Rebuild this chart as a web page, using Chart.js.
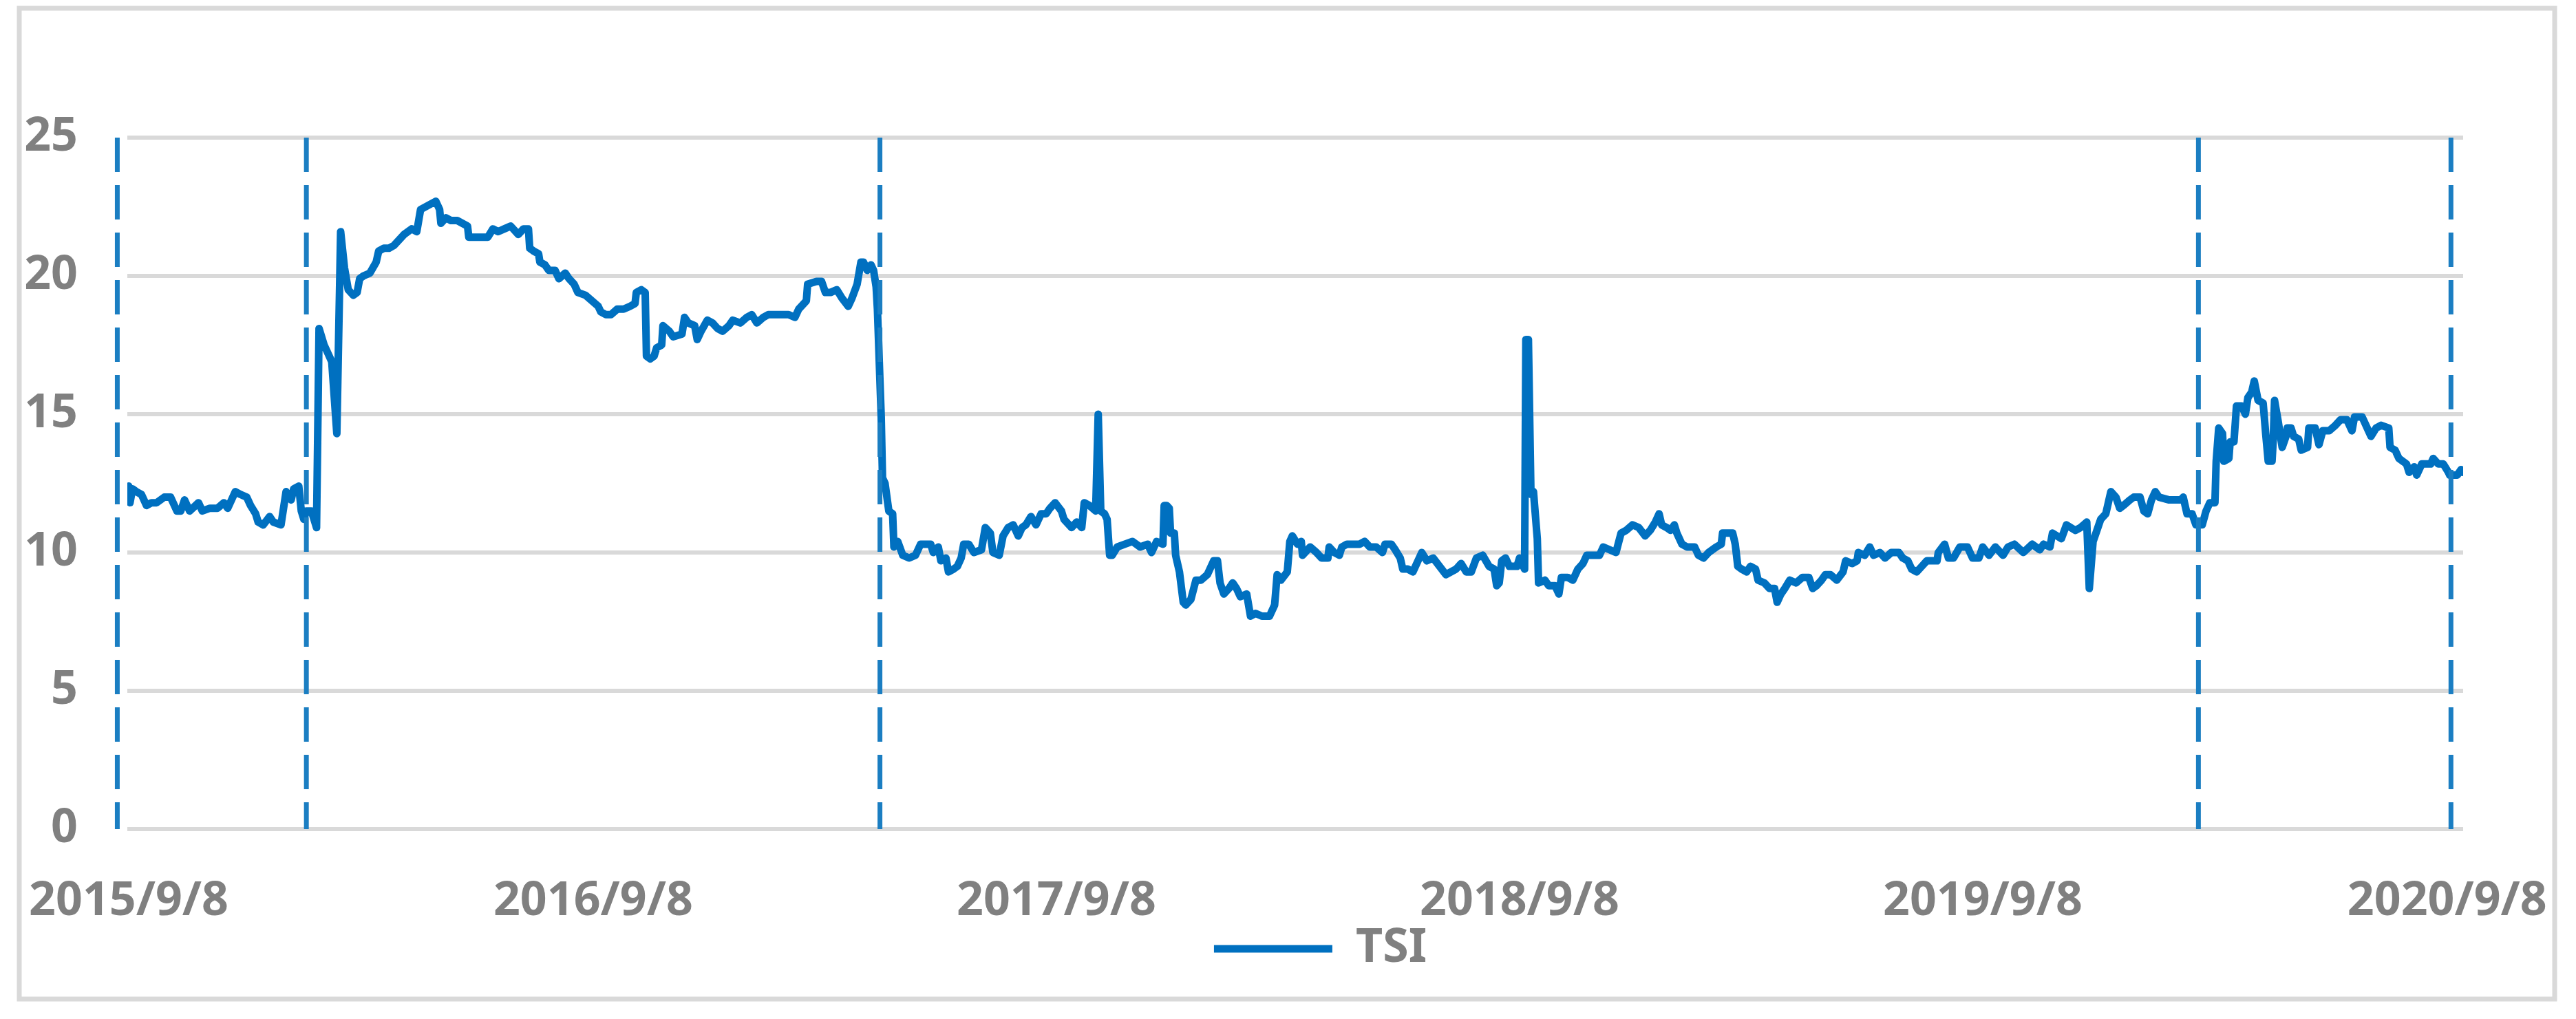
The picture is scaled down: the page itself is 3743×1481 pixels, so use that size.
<!DOCTYPE html>
<html>
<head>
<meta charset="utf-8">
<title>TSI</title>
<script src="https://cdn.jsdelivr.net/npm/chart.js@4.4.0/dist/chart.umd.min.js"></script>
<style>
  html, body { margin: 0; padding: 0; background: #fff; }
  canvas { display: block; }
</style>
</head>
<body>
<canvas id="tsiChart" width="3743" height="1481"></canvas>
<script>
// x values are days counted from 2015/9/8
const tickDays = [0, 366, 731, 1096, 1461, 1827];
const tickLabels = ["2015/9/8", "2016/9/8", "2017/9/8", "2018/9/8", "2019/9/8", "2020/9/8"];

// dashed vertical markers
const markerDays = [-9, 140, 592, 1631, 1830];

const tsiDays = [
  0, 1, 3, 6, 10, 14, 18, 22, 28, 33,
  38, 41, 44, 48, 55, 58, 64, 70, 75, 78,
  84, 88, 93, 96, 100, 102, 106, 111, 114, 120,
  124, 128, 130, 134, 136, 138, 140, 144, 148, 150,
  154, 157, 160, 164, 167, 170, 173, 177, 180, 182,
  185, 190, 195, 197, 201, 205, 209, 213, 217, 223,
  227, 230, 234, 238, 242, 245, 246, 250, 254, 259,
  263, 267, 268, 273, 277, 283, 287, 291, 296, 301,

  307, 311, 315, 316, 319, 323, 324, 328, 331, 336,
  339, 344, 347, 351, 354, 360, 365, 370, 372, 376,
  380, 385, 390, 395, 399, 400, 404, 407, 408, 411,
  414, 416, 420, 421, 426, 429, 436, 438, 441, 446,
  448, 451, 456, 460, 464, 468, 473, 476, 482, 487,
  491, 495, 500, 504, 516, 520, 525, 528, 534, 535,
  542, 546, 549, 553, 558, 562, 567, 570, 574, 577,
  579, 582, 585, 587, 589, 590, 593, 594, 596, 599,
  602, 603, 606, 610, 615,

  620, 624, 629, 632, 634, 638, 640, 644, 646, 650,
  653, 656, 658, 662, 666, 672, 675, 679, 681, 686,
  689, 693, 697, 701, 704, 707, 711, 715, 719, 723,
  726, 730, 735, 737, 743, 747, 751, 753, 757, 762,
  764, 766, 769, 771, 773, 775, 779, 785, 791, 797,
  803, 806, 810, 815, 816, 818, 820, 821, 824, 825,
  828, 831, 833, 837, 841, 845, 850, 855, 858, 860,
  863, 867, 870, 873, 876, 881, 884, 888, 893, 899,
  903, 905, 908, 913, 915, 917, 921, 924, 925,

  931, 936, 940, 945, 946, 950, 954, 956, 960, 964,
  970, 974, 978, 983, 988, 990, 995, 998, 1002, 1004,
  1008, 1012, 1016, 1019, 1023, 1028, 1033, 1038, 1042, 1046,
  1050, 1054, 1058, 1062, 1067, 1072, 1076, 1078, 1080, 1082,
  1085, 1088, 1094, 1096, 1100, 1101, 1103, 1105, 1107, 1110,
  1111, 1116, 1119, 1124, 1127, 1129, 1134, 1138, 1142, 1146,
  1149, 1154, 1159, 1162, 1167, 1172, 1176, 1180, 1185, 1190,
  1195, 1199, 1203, 1206, 1208, 1212, 1215, 1218, 1220, 1224,
  1228, 1234,

  1237, 1241, 1245, 1251, 1255, 1256, 1261, 1264, 1266, 1268,
  1271, 1275, 1278, 1282, 1284, 1289, 1293, 1297, 1299, 1302,
  1305, 1309, 1314, 1319, 1324, 1327, 1330, 1334, 1337, 1341,
  1346, 1351, 1353, 1358, 1362, 1363, 1368, 1372, 1375, 1380,
  1384, 1389, 1395, 1398, 1402, 1405, 1409, 1413, 1417, 1425,
  1426, 1431, 1434, 1438, 1443, 1449, 1453, 1458, 1461, 1466,
  1471, 1477, 1481, 1486, 1493, 1500, 1506, 1509, 1514, 1516,
  1523, 1527, 1534, 1538, 1543, 1545,

  1548, 1551, 1554, 1558, 1562, 1566, 1569, 1572, 1577, 1580,
  1585, 1588, 1591, 1594, 1597, 1600, 1608, 1617, 1619, 1622,
  1626, 1629, 1634, 1637, 1640, 1644, 1645, 1647, 1650, 1651,
  1655, 1656, 1659, 1661, 1665, 1668, 1670, 1673, 1675, 1678,
  1682, 1684, 1686, 1689, 1690, 1691, 1694, 1697, 1700, 1701,
  1704, 1706, 1710, 1712, 1717, 1718, 1723, 1726, 1729, 1734,
  1739, 1743, 1748, 1752, 1754, 1760, 1764, 1767, 1771, 1775,
  1781, 1782, 1786, 1789, 1795, 1797, 1801, 1803, 1807, 1814,
  1816, 1820, 1824, 1828, 1829, 1835, 1838, 1839
];

const tsiValues = [
  12.4, 11.8, 12.3, 12.2, 12.1, 11.7, 11.8, 11.8, 12.0, 12.0,
  11.5, 11.5, 11.9, 11.5, 11.8, 11.5, 11.6, 11.6, 11.8, 11.6,
  12.2, 12.1, 12.0, 11.7, 11.4, 11.1, 11.0, 11.3, 11.1, 11.0,
  12.2, 11.9, 12.3, 12.4, 11.5, 11.2, 11.5, 11.5, 10.9, 18.1,
  17.5, 17.2, 16.9, 14.3, 21.6, 20.3, 19.5, 19.3, 19.4, 19.9,
  20.0, 20.1, 20.5, 20.9, 21.0, 21.0, 21.1, 21.3, 21.5, 21.7,
  21.6, 22.4, 22.5, 22.6, 22.7, 22.4, 21.9, 22.1, 22.0, 22.0,
  21.9, 21.8, 21.4, 21.4, 21.4, 21.4, 21.7, 21.6, 21.7, 21.8,

  21.5, 21.7, 21.7, 21.0, 20.9, 20.8, 20.5, 20.4, 20.2, 20.2,
  19.9, 20.1, 19.9, 19.7, 19.4, 19.3, 19.1, 18.9, 18.7, 18.6,
  18.6, 18.8, 18.8, 18.9, 19.0, 19.4, 19.5, 19.4, 17.1, 17.0,
  17.1, 17.4, 17.5, 18.2, 18.0, 17.8, 17.9, 18.5, 18.3, 18.2,
  17.7, 18.0, 18.4, 18.3, 18.1, 18.0, 18.2, 18.4, 18.3, 18.5,
  18.6, 18.3, 18.5, 18.6, 18.6, 18.6, 18.5, 18.8, 19.1, 19.7,
  19.8, 19.8, 19.4, 19.4, 19.5, 19.2, 18.9, 19.2, 19.7, 20.5,
  20.5, 20.2, 20.4, 20.2, 19.6, 18.8, 14.9, 12.7, 12.5, 11.5,
  11.4, 10.2, 10.4, 9.9, 9.8,

  9.9, 10.3, 10.3, 10.3, 10.0, 10.2, 9.7, 9.8, 9.3, 9.4,
  9.5, 9.8, 10.3, 10.3, 10.0, 10.1, 10.9, 10.7, 10.0, 9.9,
  10.6, 10.9, 11.0, 10.6, 10.9, 11.0, 11.3, 11.0, 11.4, 11.4,
  11.6, 11.8, 11.5, 11.2, 10.9, 11.1, 10.9, 11.8, 11.7, 11.5,
  15.0, 11.5, 11.4, 11.2, 9.9, 9.9, 10.2, 10.3, 10.4, 10.2,
  10.3, 10.0, 10.4, 10.3, 11.7, 11.7, 11.6, 10.7, 10.7, 9.9,
  9.3, 8.2, 8.1, 8.3, 9.0, 9.0, 9.2, 9.7, 9.7, 8.9,
  8.5, 8.7, 8.9, 8.7, 8.4, 8.5, 7.7, 7.8, 7.7, 7.7,
  8.1, 9.2, 9.0, 9.3, 10.4, 10.6, 10.3, 10.4, 9.9,

  10.2, 10.0, 9.8, 9.8, 10.2, 10.0, 9.9, 10.2, 10.3, 10.3,
  10.3, 10.4, 10.2, 10.2, 10.0, 10.3, 10.3, 10.1, 9.8, 9.4,
  9.4, 9.3, 9.7, 10.0, 9.7, 9.8, 9.5, 9.2, 9.3, 9.4,
  9.6, 9.3, 9.3, 9.8, 9.9, 9.5, 9.4, 8.8, 8.9, 9.7,
  9.8, 9.5, 9.5, 9.8, 9.4, 17.7, 17.7, 12.1, 12.2, 10.5,
  8.9, 9.0, 8.8, 8.8, 8.5, 9.1, 9.1, 9.0, 9.4, 9.6,
  9.9, 9.9, 9.9, 10.2, 10.1, 10.0, 10.7, 10.8, 11.0, 10.9,
  10.6, 10.8, 11.1, 11.4, 11.0, 10.9, 10.8, 11.0, 10.7, 10.3,
  10.2, 10.2,

  9.9, 9.8, 10.0, 10.2, 10.3, 10.7, 10.7, 10.7, 10.3, 9.5,
  9.4, 9.3, 9.5, 9.4, 9.0, 8.9, 8.7, 8.7, 8.2, 8.5,
  8.7, 9.0, 8.9, 9.1, 9.1, 8.7, 8.8, 9.0, 9.2, 9.2,
  9.0, 9.3, 9.7, 9.6, 9.7, 10.0, 9.9, 10.2, 9.9, 10.0,
  9.8, 10.0, 10.0, 9.8, 9.7, 9.4, 9.3, 9.5, 9.7, 9.7,
  10.0, 10.3, 9.8, 9.8, 10.2, 10.2, 9.8, 9.8, 10.2, 9.9,
  10.2, 9.9, 10.2, 10.3, 10.0, 10.3, 10.1, 10.3, 10.2, 10.7,
  10.5, 11.0, 10.8, 10.9, 11.1, 8.7,

  10.4, 10.8, 11.2, 11.4, 12.2, 12.0, 11.6, 11.7, 11.9, 12.0,
  12.0, 11.5, 11.4, 11.9, 12.2, 12.0, 11.9, 11.9, 12.0, 11.4,
  11.4, 11.0, 11.0, 11.5, 11.8, 11.8, 13.3, 14.5, 14.3, 13.3,
  13.4, 14.0, 14.0, 15.3, 15.3, 15.0, 15.6, 15.8, 16.2, 15.5,
  15.4, 14.3, 13.3, 13.3, 14.1, 15.5, 14.7, 13.8, 14.2, 14.5,
  14.5, 14.2, 14.1, 13.7, 13.8, 14.5, 14.5, 13.9, 14.4, 14.4,
  14.6, 14.8, 14.8, 14.4, 14.9, 14.9, 14.5, 14.2, 14.5, 14.6,
  14.5, 13.8, 13.7, 13.4, 13.2, 12.9, 13.1, 12.8, 13.2, 13.2,
  13.4, 13.2, 13.2, 12.9, 12.8, 12.8, 13.0, 12.9
];

const textGray = '#808080';
const labelFont = { family: "'Noto Sans', sans-serif", size: 68, weight: 'bold' };
// taller line box pushes the date labels down without widening the side padding
const dateFont = { family: "'Noto Sans', sans-serif", size: 68, weight: 'bold', lineHeight: 2 };

const tsiPoints = tsiDays.map((d, i) => ({ x: d, y: tsiValues[i] }));

// one dataset per dashed marker, running from the top of the axis to 0
const markerSets = markerDays.map(d => ({
  label: '',
  data: [{ x: d, y: 25 }, { x: d, y: 0 }],
  borderColor: '#1b7ec2',
  borderWidth: 7,
  borderDash: [50, 19],
  borderCapStyle: 'butt',
  pointRadius: 0,
  clip: false,
  order: 0
}));

// light grey outer frame like the office chart box
const frame = {
  id: 'frame',
  beforeDraw(chart) {
    const ctx = chart.ctx;
    ctx.save();
    ctx.fillStyle = '#ffffff';
    ctx.fillRect(0, 0, chart.width, chart.height);
    ctx.strokeStyle = '#d9d9d9';
    ctx.lineWidth = 7;
    ctx.strokeRect(28, 12, 3684, 1440);
    ctx.restore();
  }
};

// the right side padding is moved into an empty axis so the legend centres like the original
const chart = new Chart(document.getElementById('tsiChart'), {
  type: 'line',
  data: {
    datasets: [
      {
        label: 'TSI',
        data: tsiPoints,
        borderColor: '#0070c0',
        borderWidth: 11,
        borderCapStyle: 'round',
        borderJoinStyle: 'round',
        pointRadius: 0,
        tension: 0,
        order: 1
      },
      ...markerSets
    ]
  },
  options: {
    responsive: false,
    devicePixelRatio: 1,
    animation: false,
    events: [],
    layout: { padding: { left: 30, right: -64, top: 200, bottom: 58 } },
    plugins: {
      tooltip: { enabled: false },
      legend: {
        position: 'bottom',
        labels: {
          usePointStyle: true,
          pointStyle: 'line',
          pointStyleWidth: 172,
          padding: 10,
          color: textGray,
          font: labelFont,
          filter: item => item.text !== ''
        }
      }
    },
    scales: {
      x: {
        type: 'linear',
        min: -1.1,
        max: 1839.6,
        grid: { display: false },
        border: { display: false },
        ticks: {
          autoSkip: false,
          maxRotation: 0,
          padding: 30,
          color: textGray,
          font: dateFont,
          callback: v => tickLabels[tickDays.indexOf(v)]
        },
        afterBuildTicks: scale => {
          scale.ticks = tickDays.map(v => ({ value: v }));
        },
        afterFit: scale => {
          scale.height = 1481 - 58 - scale.chart.legend.height - 1205;
        }
      },
      y: {
        min: 0,
        max: 25,
        grid: { color: '#d9d9d9', lineWidth: 6, drawTicks: false },
        border: { display: false },
        ticks: { stepSize: 5, padding: 72, color: textGray, font: labelFont },
        afterFit: scale => { scale.width = 155; }
      },
      yRight: {
        position: 'right',
        grid: { display: false },
        border: { display: false },
        ticks: { display: false },
        afterFit: scale => { scale.width = 228; }
      }
    }
  },
  plugins: [frame]
});
</script>
</body>
</html>
